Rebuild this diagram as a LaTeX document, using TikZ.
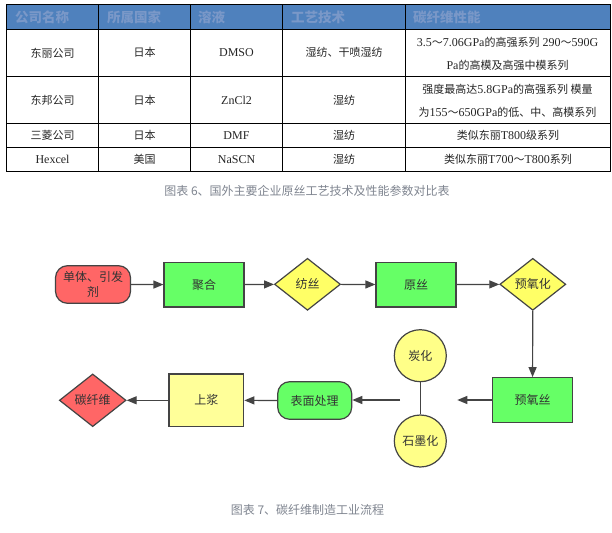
\documentclass[tikz,border=0pt]{standalone}
\usepackage{fontspec}
\setmainfont{Liberation Serif}
\newfontfamily\cjk{Noto Sans CJK SC}
\usetikzlibrary{shapes.geometric,arrows.meta}
\definecolor{biaotou}{HTML}{4F81BD}
\definecolor{biaotouzi}{HTML}{7A98C8}
\definecolor{hong}{HTML}{FF6666}
\definecolor{lv}{HTML}{66FF66}
\definecolor{huang}{HTML}{FFFF66}
\definecolor{danhuang}{HTML}{FFFF99}
\definecolor{yuanhuang}{HTML}{FFFF88}
\definecolor{xian}{HTML}{444444}
\definecolor{zhuzi}{HTML}{7F8590}
\newcommand\zh[1]{{\cjk\fontsize{11}{23}\selectfont #1}}

\begin{document}
\begin{tikzpicture}[x=1pt, y=-1pt,
    kuang/.style={rectangle, draw=xian, line width=1.2pt, inner sep=0pt, text=black!80, font=\cjk\fontsize{12}{15}\selectfont},
    yuanjiao/.style={kuang, rounded corners=12pt},
    lingxing/.style={diamond, draw=xian, line width=1.2pt, inner sep=0pt, minimum width=66pt, minimum height=52pt, text=black!80, font=\cjk\fontsize{12}{15}\selectfont},
    yuan/.style={circle, draw=xian, line width=1.2pt, inner sep=0pt, minimum size=52pt, fill=yuanhuang, text=black!80, font=\cjk\fontsize{12}{15}\selectfont},
    jiantou/.style={draw=xian, line width=1.2pt, -{Triangle[length=10pt,width=8pt]}},
    tou/.style={anchor=west, inner sep=0pt, text=biaotouzi, font=\cjk\bfseries\fontsize{13.5}{16}\selectfont},
    ge/.style={inner sep=0pt, align=center, text=black!85, font=\fontsize{12}{23}\selectfont},
    zhu/.style={inner sep=0pt, text=zhuzi, font=\cjk\fontsize{12}{15}\selectfont}]
    \fill[white] (0,0) rectangle (612,532);
    % 表格
    \fill[biaotou] (6.3,5) rectangle (610,29.3);
    \draw[line width=1pt] (6.3,5) rectangle (610,171.3);
    \draw[line width=1pt] (6.3,29.3) -- (610,29.3) (6.3,76.3) -- (610,76.3) (6.3,123.3) -- (610,123.3) (6.3,147.3) -- (610,147.3);
    \draw[line width=1pt] (98.7,5) -- (98.7,171.3) (190.7,5) -- (190.7,171.3) (282.3,5) -- (282.3,171.3) (405.7,5) -- (405.7,171.3);
    \node[tou] (h1) at (15,17) {公司名称};
    \node[tou] (h2) at (107,17) {所属国家};
    \node[tou] (h3) at (198,17) {溶液};
    \node[tou] (h4) at (291,17) {工艺技术};
    \node[tou] (h5) at (413,17) {碳纤维性能};
    % 东丽
    \node[ge] (a1) at (52.5,52.8) {\zh{东丽公司}};
    \node[ge] (a2) at (144.7,52.8) {\zh{日本}};
    \node[ge] (a3) at (236.5,52.8) {DMSO};
    \node[ge] (a4) at (344,52.8) {\zh{湿纺、干喷湿纺}};
    \node[ge] (a5) at (507.5,54.2) {3.5\zh{～}7.06GPa\zh{的高强系列} 290\zh{～}590G\\Pa\zh{的高模及高强中模系列}};
    % 东邦
    \node[ge] (b1) at (52.5,100) {\zh{东邦公司}};
    \node[ge] (b2) at (144.7,100) {\zh{日本}};
    \node[ge] (b3) at (236.5,100) {ZnCl2};
    \node[ge] (b4) at (344,100) {\zh{湿纺}};
    \node[ge] (b5) at (507.5,100.8) {\zh{强度最高达}5.8GPa\zh{的高强系列 模量}\\\zh{为}155\zh{～}650GPa\zh{的低、中、高模系列}};
    % 三菱
    \node[ge] (c1) at (52.5,135.5) {\zh{三菱公司}};
    \node[ge] (c2) at (144.7,135.5) {\zh{日本}};
    \node[ge] (c3) at (236.5,135.5) {DMF};
    \node[ge] (c4) at (344,135.5) {\zh{湿纺}};
    \node[ge] (c5) at (508,135.5) {\zh{类似东丽}T800\zh{级系列}};
    % Hexcel
    \node[ge] (d1) at (52.5,159.5) {Hexcel};
    \node[ge] (d2) at (144.7,159.5) {\zh{美国}};
    \node[ge] (d3) at (236.5,159.5) {NaSCN};
    \node[ge] (d4) at (344,159.5) {\zh{湿纺}};
    \node[ge] (d5) at (508,159.5) {\zh{类似东丽}T700\zh{～}T800\zh{系列}};
    \node[zhu] (biao6) at (307,191) {图表 6、国外主要企业原丝工艺技术及性能参数对比表};
    % 流程 第一行
    \node[yuanjiao, fill=hong, minimum width=75pt, minimum height=37.6pt, align=center] (danti) at (93,284.5) {单体、引发\\剂};
    \node[kuang, fill=lv, minimum width=80pt, minimum height=44.7pt] (juhe) at (204,284.6) {聚合};
    \node[lingxing, fill=huang] (fangsi) at (307.5,284.3) {纺丝};
    \node[kuang, fill=lv, minimum width=80pt, minimum height=44.7pt] (yuansi) at (416,284.6) {原丝};
    \node[lingxing, fill=huang] (yuyanghua) at (532.8,284.3) {预氧化};
    \draw[jiantou] (danti) -- (juhe);
    \draw[jiantou] (juhe) -- (fangsi);
    \draw[jiantou] (fangsi) -- (yuansi);
    \draw[jiantou] (yuansi) -- (yuyanghua);
    % 流程 第二行
    \node[kuang, fill=lv, minimum width=80.4pt, minimum height=44.6pt] (yuyangsi) at (532.5,400) {预氧丝};
    \node[yuan] (tanhua) at (420.3,355.7) {炭化};
    \node[yuan] (shimohua) at (420.3,441) {石墨化};
    \node[yuanjiao, fill=lv, minimum width=74pt, minimum height=37.6pt] (biaomian) at (314.7,400.5) {表面处理};
    \node[kuang, fill=danhuang, minimum width=74.7pt, minimum height=52.7pt] (shangjiang) at (206.4,400.3) {上浆};
    \node[lingxing, fill=hong, minimum width=66.7pt, minimum height=52.7pt] (tanxianwei) at (92.7,400.3) {碳纤维};
    \coordinate (ru) at (457.3,400);
    \coordinate (chu) at (400,400);
    \draw[jiantou] (yuyanghua) -- (yuyangsi);
    \draw[jiantou] (yuyangsi) -- (ru);
    \draw[draw=xian, line width=1.2pt] (tanhua) -- (shimohua);
    \draw[jiantou] (chu) -- (biaomian.east |- chu);
    \draw[jiantou] (biaomian) -- (shangjiang);
    \draw[jiantou] (shangjiang) -- (tanxianwei);
    \node[zhu] (tu7) at (307.5,510) {图表 7、碳纤维制造工业流程};
\end{tikzpicture}
\end{document}
